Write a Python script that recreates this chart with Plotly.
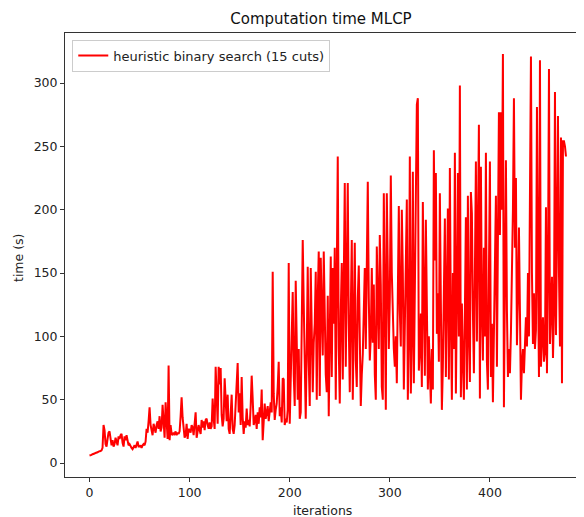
import plotly.graph_objects as go

# computation time (s) per iteration
time_s = [
    6, 6, 6.5, 7, 7, 7.5, 8, 8, 8.5, 9,
    9, 9.5, 10, 12, 30, 26, 15, 13, 19, 24,
    25, 18, 14, 18, 13, 15, 20, 17, 14, 21,
    19, 22, 23, 16, 13, 21, 18, 22, 16, 14,
    15, 13, 12, 11, 13, 14, 12, 15, 17, 13,
    13, 14, 12, 14, 15, 14, 17, 27, 24, 33,
    44, 30, 25, 22, 31, 26, 24, 30, 33, 27,
    37, 25, 28, 46, 31, 20, 48, 27, 19, 77,
    18, 30, 23, 22, 24, 23, 25, 22, 24, 23,
    25, 37, 52, 36, 26, 20, 22, 31, 19, 27,
    26, 24, 30, 28, 22, 32, 40, 20, 27, 30,
    26, 23, 34, 28, 33, 26, 34, 35, 30, 27,
    32, 27, 29, 51, 35, 27, 76, 46, 31, 76,
    62, 75, 38, 29, 35, 67, 47, 33, 54, 27,
    23, 42, 54, 27, 23, 30, 45, 63, 79, 40,
    55, 30, 68, 36, 23, 33, 28, 43, 30, 34,
    29, 45, 69, 51, 30, 33, 38, 27, 40, 31,
    44, 36, 58, 18, 30, 47, 35, 42, 45, 33,
    39, 48, 40, 151, 55, 34, 42, 47, 60, 80,
    37, 44, 32, 67, 66, 30, 35, 32, 42, 158,
    31, 60, 100, 135, 70, 45, 144, 76, 50, 90,
    35, 40, 120, 176, 126, 70, 35, 90, 155, 80,
    45, 154, 100, 56, 95, 110, 151, 50, 130, 167,
    53, 162, 120, 85, 167, 100, 70, 56, 132, 37,
    90, 163, 68, 154, 110, 170, 50, 130, 242, 90,
    47, 120, 158, 66, 140, 221, 76, 180, 221, 110,
    56, 120, 176, 50, 100, 174, 81, 60, 130, 156,
    100, 45, 70, 86, 120, 154, 90, 160, 222, 130,
    81, 100, 154, 95, 141, 70, 50, 171, 120, 90,
    180, 140, 60, 50, 213, 150, 42, 213, 150, 90,
    130, 227, 150, 110, 90, 76, 100, 63, 140, 203,
    120, 92, 200, 150, 58, 100, 160, 208, 50, 100,
    242, 55, 100, 230, 63, 150, 192, 283, 288, 73,
    90, 118, 60, 206, 130, 69, 192, 120, 58, 100,
    78, 47, 90, 58, 247, 160, 229, 102, 134, 80,
    213, 130, 42, 76, 150, 193, 68, 120, 201, 66,
    233, 110, 50, 150, 90, 245, 55, 130, 229, 100,
    298, 52, 126, 80, 50, 120, 194, 58, 211, 100,
    64, 214, 197, 120, 71, 150, 238, 96, 180, 267,
    51, 234, 120, 81, 170, 100, 245, 80, 58, 150,
    238, 68, 110, 48, 120, 160, 211, 76, 150, 277,
    180, 277, 200, 323, 44, 150, 239, 120, 68, 90,
    71, 103, 140, 200, 288, 170, 225, 93, 130, 186,
    120, 50, 79, 90, 71, 100, 115, 92, 150, 100,
    242, 321, 150, 94, 134, 90, 105, 281, 150, 68,
    318, 76, 100, 115, 80, 87, 202, 71, 150, 311,
    94, 130, 147, 83, 120, 293, 101, 180, 274, 150,
    92, 257, 63, 254, 254, 250, 242,
]
iterations = list(range(len(time_s)))

series_name = "heuristic binary search (15 cuts)"
title_text = "Computation time MLCP"
x_title = "iterations"
y_title = "time (s)"
x_ticks = [0, 100, 200, 300, 400]
y_ticks = [0, 50, 100, 150, 200, 250, 300]

font_family = "DejaVu Sans"
txt_color = "#222222"

# the page has an 8px body margin, so the figure is 8px smaller than the window
W, H = 576, 509

fig = go.Figure()
fig.add_trace(go.Scatter(
    x=iterations, y=time_s, mode="lines", name=series_name,
    line=dict(color="#ff0000", width=2),
))

axis_common = dict(
    showgrid=False, zeroline=False, showline=True, linecolor="#333333",
    linewidth=1, ticks="outside", ticklen=4, tickwidth=1, tickcolor="#333333",
    tickfont=dict(family=font_family, size=12.5, color=txt_color),
    automargin=False,
)

fig.update_layout(
    width=W, height=H,
    margin=dict(l=57, r=0, t=25, b=40, autoexpand=False),
    paper_bgcolor="white", plot_bgcolor="white",
    font=dict(family=font_family, size=12.5, color=txt_color),
    title=dict(text=title_text, x=313 / W, xanchor="center", y=1 - 11 / H, yanchor="middle",
               font=dict(family=font_family, size=15, color="#111111")),
    showlegend=True,
    legend=dict(x=0.014, y=0.985, xanchor="left", yanchor="top",
                bgcolor="rgba(255,255,255,0.8)", bordercolor="#cccccc", borderwidth=1,
                font=dict(family=font_family, size=13, color=txt_color),
                itemwidth=30),
    xaxis=dict(range=[-24.5, 494], tickvals=x_ticks, mirror=True, **axis_common),
    yaxis=dict(range=[-11, 339.5], tickvals=y_ticks, mirror=False, **axis_common),
    annotations=[
        dict(text=x_title, xref="paper", yref="paper", x=(322 - 65) / 519, y=-(510 - 477) / 444,
             xanchor="center", yanchor="middle", showarrow=False,
             font=dict(family=font_family, size=12.5, color=txt_color)),
        dict(text=y_title, xref="paper", yref="paper", x=-(65 - 18) / 519, y=(477 - 258) / 444,
             xanchor="center", yanchor="middle", showarrow=False, textangle=-90,
             font=dict(family=font_family, size=12.5, color=txt_color)),
    ],
)

fig.write_html("out.html")
